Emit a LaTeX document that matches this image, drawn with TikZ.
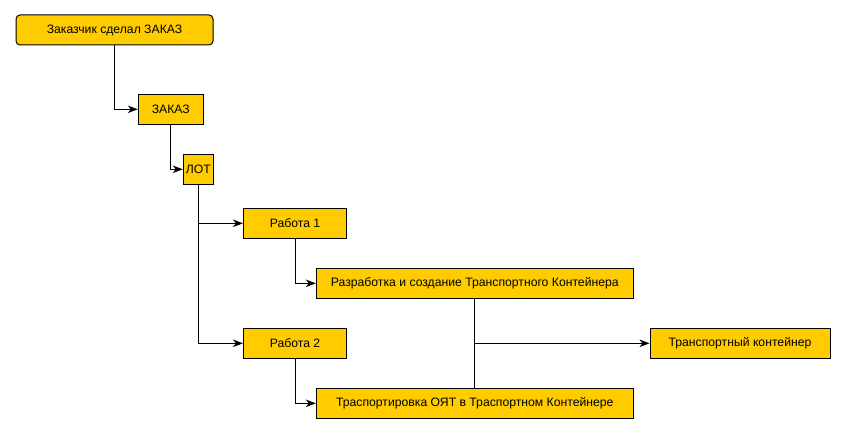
\documentclass[tikz,border=0pt]{standalone}
\usepackage{fontspec}
\setmainfont{Liberation Sans}
\usetikzlibrary{arrows.meta}
\definecolor{boxyellow}{HTML}{FFCC00}
\begin{document}
\begin{tikzpicture}[x=1pt, y=-1pt,
    box/.style={draw, fill=boxyellow, line width=1pt, minimum height=30pt,
      inner sep=0pt, font=\fontsize{12.2}{14}\selectfont},
    arr/.style={-{Stealth[length=10pt,width=7.5pt,inset=3pt]}, line width=1pt}]
  \useasboundingbox (0,0) rectangle (844,433);

  \node[box, rounded corners=4pt, minimum width=197pt] (zakazchik) at (114.5, 30){Заказчик сделал ЗАКАЗ};
  \node[box, minimum width=65pt] (zakaz) at (170.8, 109.3){ЗАКАЗ};
  \node[box, minimum width=30pt] (lot) at (198.3, 169.3){ЛОТ};
  \node[box, minimum width=103pt] (rabota1) at (295, 223.3){Работа 1};
  \node[box, minimum width=317pt] (razrab) at (474.8, 283.3){Разработка и создание Транспортного Контейнера};
  \node[box, minimum width=103pt] (rabota2) at (295, 343.3){Работа 2};
  \node[box, minimum width=317pt] (transp) at (474.8, 403.3){Траспортировка ОЯТ в Траспортном Контейнере};
  \node[box, minimum width=180pt] (kont) at (740, 343.3){Транспортный контейнер};

  \draw[arr] (zakazchik.south) |- (zakaz.west);
  \draw[arr] (zakaz.south) |- (lot.west);
  \draw[arr] (lot.south) |- (rabota1.west);
  \draw[arr] (lot.south) |- (rabota2.west);
  \draw[arr] (rabota1.south) |- (razrab.west);
  \draw[arr] (rabota2.south) |- (transp.west);

  \draw[line width=1pt] (razrab.south) -- (transp.north);
  \coordinate (razv) at (razrab.south |- kont.west);
  \draw[arr] (razv) -- (kont.west);
\end{tikzpicture}
\end{document}
